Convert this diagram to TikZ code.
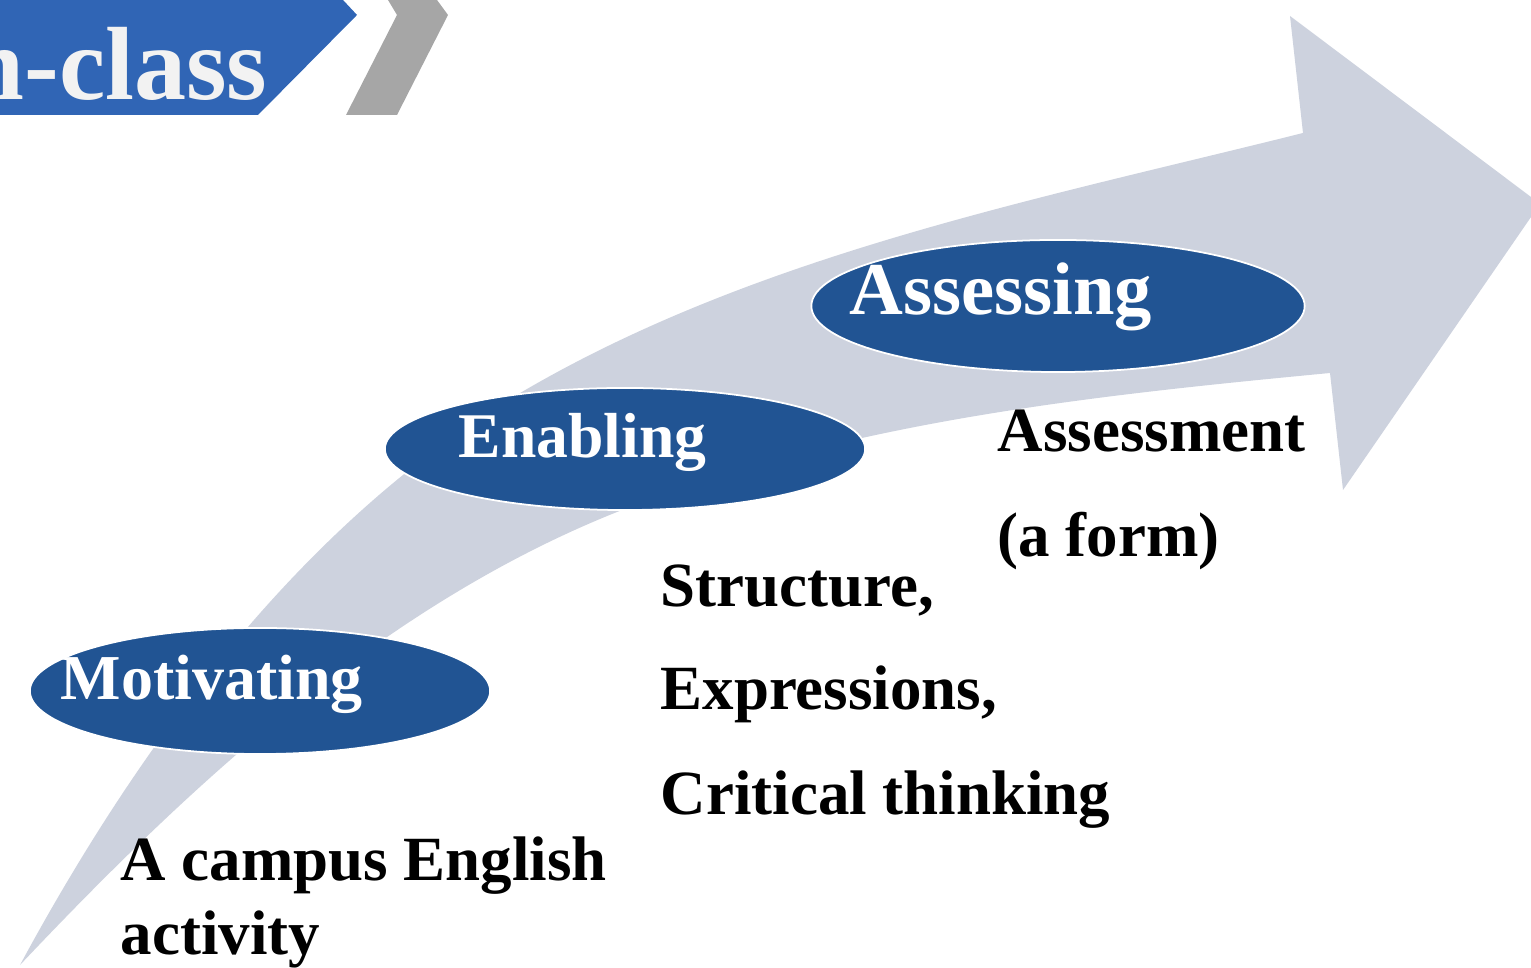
\documentclass[tikz,border=0pt]{standalone}
\usepackage{fontspec}
\setmainfont{Liberation Serif}
\usetikzlibrary{shapes.geometric}
\definecolor{arrowgrey}{RGB}{205,210,222}
\definecolor{ellblue}{RGB}{33,84,147}
\definecolor{bannerblue}{RGB}{48,101,181}
\definecolor{chevgrey}{RGB}{166,166,166}
\definecolor{offwhite}{RGB}{242,242,242}
\tikzset{
  stage/.style={ellipse, fill=ellblue, draw=white, line width=0.5pt, inner sep=0pt},
  stagetext/.style={anchor=base west, inner sep=0pt, text=white, font=\bfseries},
  bodytext/.style={anchor=base west, inner sep=0pt, text=black, font=\fontsize{17.9}{22}\selectfont\bfseries},
}
\begin{document}
\begin{tikzpicture}[x=0.01cm, y=-0.01cm]
\useasboundingbox (0,0) rectangle (1531,968);
% big curved arrow
\coordinate (tail) at (20,965);
\coordinate (umid) at (527,389);
\coordinate (uend) at (1303,133);
\coordinate (htop) at (1290,16);
\coordinate (tipa) at (1531,197);
\coordinate (tipb) at (1531,217);
\coordinate (hbot) at (1343,490);
\coordinate (lstart) at (1330,373);
\coordinate (lmid) at (617,512);
\fill[arrowgrey] (tail)
  .. controls (141,741) and (306,517) .. (umid)
  .. controls (762,253) and (1039,199) .. (uend)
  -- (htop) -- (tipa) -- (tipb) -- (hbot) -- (lstart)
  .. controls (1089,396) and (842,422) .. (lmid)
  .. controls (384,605) and (192,783) .. (tail) -- cycle;
% banner
\fill[bannerblue] (0,0) -- (343,0) -- (357,15) -- (258,115) -- (0,115) -- cycle;
\fill[chevgrey] (388,0) -- (437,0) -- (448,15) -- (397,115) -- (346,115) -- (397,15) -- cycle;
\begin{scope}
\clip (0,0) rectangle (357,115);
\node[anchor=base east, inner sep=0pt, text=offwhite, font=\fontsize{29.6}{34}\selectfont\bfseries] (title) at (268,100) {n-class};
\end{scope}
% stage ellipses
\node[stage, minimum width=4.6cm, minimum height=1.26cm] (mot) at (260,691) {};
\node[stage, minimum width=4.8cm, minimum height=1.22cm] (ena) at (625,449) {};
\node[stage, minimum width=4.93cm, minimum height=1.32cm] (ass) at (1058,306) {};
\node[stagetext, font=\fontsize{18.2}{22}\selectfont\bfseries] (motT) at (60,700) {Motivating};
\node[stagetext, font=\fontsize{18.1}{22}\selectfont\bfseries] (enaT) at (458,458) {Enabling};
\node[stagetext, font=\fontsize{21.2}{25}\selectfont\bfseries] (assT) at (849,315) {Assessing};
% body texts
\node[bodytext] (t1) at (120,880) {A campus English};
\node[bodytext] (t2) at (120,955) {activity};
\node[bodytext] (t3) at (660,607) {Structure,};
\node[bodytext] (t4) at (660,710) {Expressions,};
\node[bodytext] (t5) at (660,815) {Critical thinking};
\node[bodytext] (t6) at (997,452) {Assessment};
\node[bodytext] (t7) at (997,557) {(a form)};
\end{tikzpicture}
\end{document}
